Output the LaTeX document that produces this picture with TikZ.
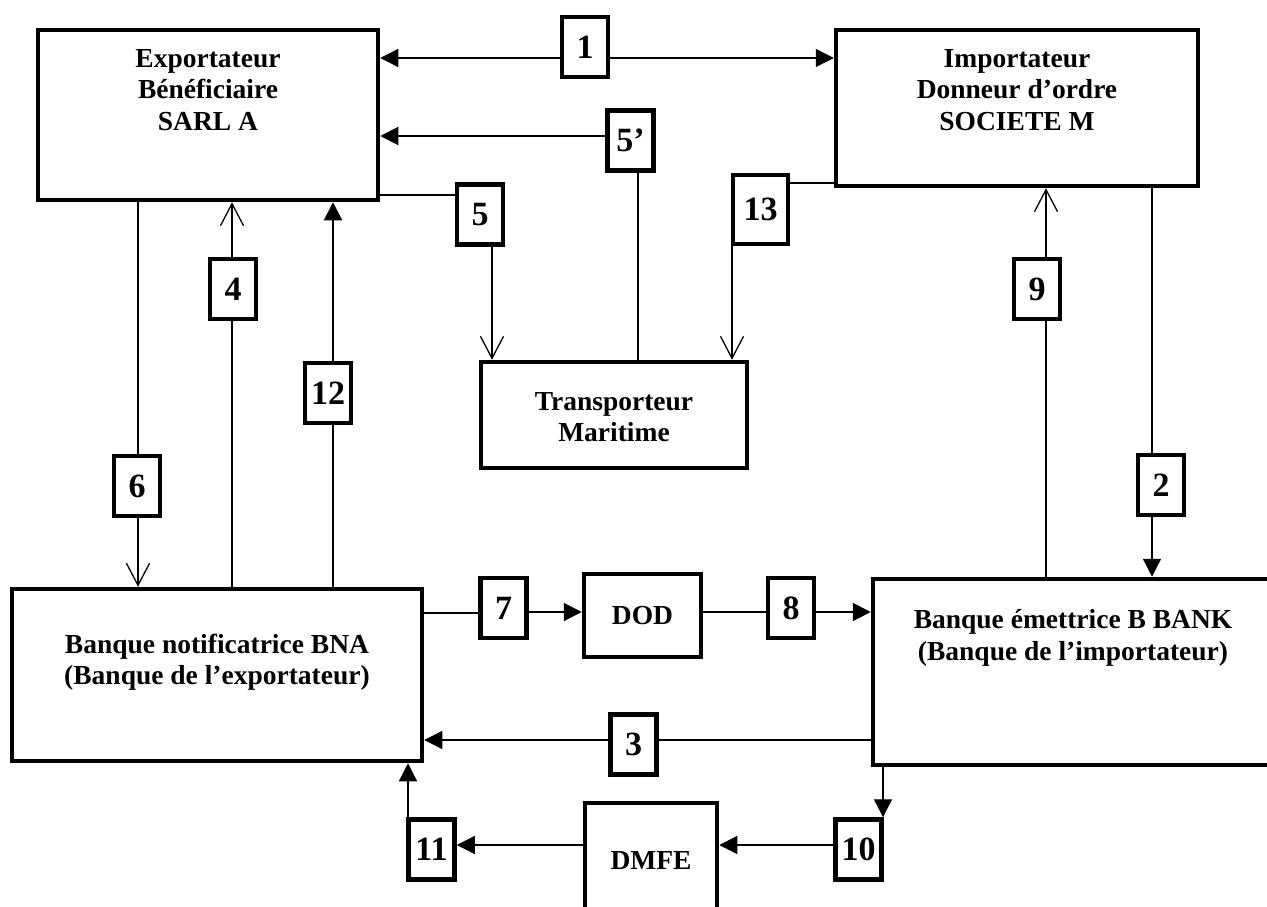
\documentclass[tikz,border=0pt]{standalone}
\usepackage{fontspec}
\setmainfont{Liberation Serif}
\usetikzlibrary{arrows.meta}
\begin{document}
\begin{tikzpicture}[x=1pt,y=-1pt,
  box/.style={draw, line width=4.5pt, inner sep=0pt, rectangle, font=\fontsize{27.5}{31.5}\selectfont\bfseries},
  numbox/.style={box, minimum width=46pt, minimum height=60pt, font=\fontsize{34}{36}\selectfont\bfseries},
  txt/.style={align=center, inner sep=0pt, font=\fontsize{27.5}{31.5}\selectfont\bfseries},
  ln/.style={line width=1.3pt},
  lnm/.style={line width=2pt},
  farr/.style={-{Triangle[length=18pt,width=18pt]}},
  oarr/.style={-{Straight Barb[length=22pt,width=23pt,line width=1.3pt]}},
]
\useasboundingbox (0,0) rectangle (1267,907);
\fill[white] (0,0) rectangle (1267,907);
\clip (0,0) rectangle (1267,907);

% main boxes
\node[box, minimum width=340pt, minimum height=170pt] (exp) at (208,115) {};
\node[txt] (expt) at (208,90) {Exportateur\\Bénéficiaire\\SARL A};
\node[box, minimum width=362pt, minimum height=156pt] (imp) at (1017,108) {};
\node[txt] (impt) at (1017,90) {Importateur\\Donneur d’ordre\\SOCIETE M};
\node[box, minimum width=266pt, minimum height=106pt] (trans) at (614,415) {};
\node[txt] (transt) at (614,417) {Transporteur\\Maritime};
\node[box, minimum width=410pt, minimum height=172pt] (bna) at (217,675) {};
\node[txt] (bnat) at (217,662) {Banque notificatrice BNA\\(Banque de l’exportateur)};
\node[box, minimum width=405pt, minimum height=186pt] (bbk) at (1075.5,672) {};
\node[txt] (bbkt) at (1073,638) {Banque émettrice B BANK\\(Banque de l’importateur)};
\node[box, minimum width=117pt, minimum height=83pt] (dod) at (642.5,615.5) {DOD};
\node[box, minimum width=132pt, minimum height=115pt] (dmfe) at (651,860.5) {DMFE};

% number boxes
\node[numbox] (b1) at (585,47) {1};
\node[numbox] (b5p) at (630.5,140.5) {5’};
\node[numbox] (b5) at (480,214.5) {5};
\node[numbox, minimum width=55pt, minimum height=69pt] (b13) at (760.5,209.5) {13};
\node[numbox] (b4) at (233,289) {4};
\node[numbox] (b12) at (328,393) {12};
\node[numbox] (b9) at (1037,289) {9};
\node[numbox] (b6) at (137,486) {6};
\node[numbox] (b2) at (1161,485) {2};
\node[numbox] (b7) at (503.5,608) {7};
\node[numbox] (b8) at (791,608) {8};
\node[numbox] (b3) at (633.5,744.5) {3};
\node[numbox] (b11) at (431.5,849.5) {11};
\node[numbox] (b10) at (858.5,849.5) {10};

% 1
\draw[ln,farr] (b1.west |- 0,58) -- (exp.east |- 0,58);
\draw[ln,farr] (b1.east |- 0,58) -- (imp.west |- 0,58);
% 5'
\draw[lnm,farr] (b5p.west |- 0,136) -- (exp.east |- 0,136);
\draw[lnm] (638,0 |- b5p.south) -- (638,0 |- trans.north);
% 5
\draw[ln] (exp.east |- 0,195) -- (b5.west |- 0,195);
\draw[ln,oarr] (492,0 |- b5.south) -- (492,0 |- trans.north);
% 13
\draw[ln] (imp.west |- 0,183) -- (b13.east |- 0,183);
\draw[ln,oarr] (732,0 |- b13.south) -- (732,0 |- trans.north);
% 4
\draw[ln] (232,0 |- bna.north) -- (232,0 |- b4.south);
\draw[ln,oarr] (232,0 |- b4.north) -- (232,0 |- exp.south);
% 12
\draw[lnm] (333,0 |- bna.north) -- (333,0 |- b12.south);
\draw[lnm,farr] (333,0 |- b12.north) -- (333,0 |- exp.south);
% 6
\draw[ln] (138,0 |- exp.south) -- (138,0 |- b6.north);
\draw[ln,oarr] (138,0 |- b6.south) -- (138,0 |- bna.north);
% 9
\draw[ln] (1046,0 |- bbk.north) -- (1046,0 |- b9.south);
\draw[ln,oarr] (1046,0 |- b9.north) -- (1046,0 |- imp.south);
% 2
\draw[ln] (1152,0 |- imp.south) -- (1152,0 |- b2.north);
\draw[ln,farr] (1152,0 |- b2.south) -- (1152,0 |- bbk.north);
% 7
\draw[ln] (bna.east |- 0,613) -- (b7.west |- 0,613);
\draw[lnm,farr] (b7.east |- 0,612) -- (dod.west |- 0,612);
% 8
\draw[ln] (dod.east |- 0,612) -- (b8.west |- 0,612);
\draw[lnm,farr] (b8.east |- 0,612) -- (bbk.west |- 0,612);
% 3
\draw[ln] (bbk.west |- 0,740) -- (b3.east |- 0,740);
\draw[ln,farr] (b3.west |- 0,740) -- (bna.east |- 0,740);
% 10
\draw[ln,farr] (883,0 |- bbk.south) -- (883,0 |- b10.north);
\draw[ln,farr] (b10.west |- 0,845) -- (dmfe.east |- 0,845);
% 11
\draw[ln,farr] (dmfe.west |- 0,845) -- (b11.east |- 0,845);
\draw[ln,farr] (408,0 |- b11.north) -- (408,0 |- bna.south);
\end{tikzpicture}
\end{document}
